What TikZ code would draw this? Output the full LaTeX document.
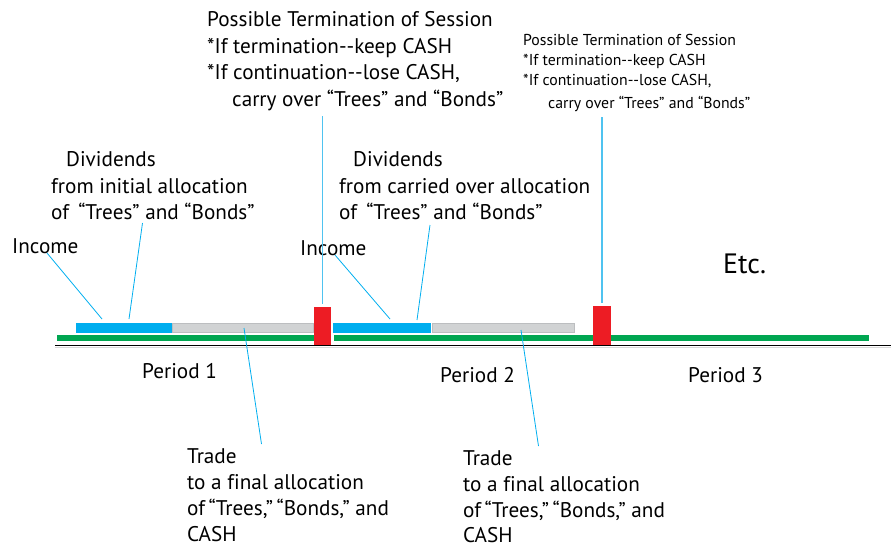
\documentclass[tikz,border=0pt]{standalone}
\usepackage{fontspec}
\setmainfont[Ligatures=NoCommon]{PT Sans}
\definecolor{cyanl}{HTML}{00AEEF}
\definecolor{termc}{HTML}{4FC3F0}
\definecolor{redb}{HTML}{ED1C24}
\definecolor{greenb}{HTML}{00A651}
\definecolor{grayb}{HTML}{D1D3D4}
\definecolor{grayedge}{HTML}{BCBEC0}
\tikzset{
  lbl/.style={anchor=base west, inner sep=0pt, font=\fontsize{21.2}{24}\selectfont},
  sml/.style={anchor=base west, inner sep=0pt, font=\fontsize{15.8}{18}\selectfont},
  etcstyle/.style={anchor=base west, inner sep=0pt, font=\fontsize{28}{30}\selectfont},
  conn/.style={draw=cyanl, line width=0.8pt},
  termline/.style={draw=termc, line width=1.4pt},
}
\newcommand{\dd}{-{}-}
\begin{document}
\begin{tikzpicture}[x=1pt,y=-1pt]
\useasboundingbox (0,0) rectangle (891,546);
% base black line
\draw[black!15, line width=1pt] (55,347.5) -- (891,347.5);
\draw[black, line width=1.5pt] (55,345.5) -- (891,345.5);
% green bars
\fill[greenb] (57,335) rectangle (314,341);
\fill[greenb] (334,335) rectangle (593,341);
\fill[greenb] (611,335) rectangle (869,341);
% blue and gray bars
\fill[cyanl] (76,323) rectangle (172,333);
\filldraw[fill=grayb, draw=grayedge, line width=0.7pt] (172.5,323.5) rectangle (313,332.5);
\fill[cyanl] (333,323) rectangle (431,333);
\filldraw[fill=grayb, draw=grayedge, line width=0.7pt] (432,323.5) rectangle (574,332.5);
% red markers
\fill[redb] (314,307) rectangle (331,345);
\fill[redb] (593,306) rectangle (611,345);
% top text 1
\node[lbl] (t1a) at (207,26.7) {Possible Termination of Session};
\node[lbl] (t1b) at (207,53.2) {*If termination\dd keep CASH};
\node[lbl] (t1c) at (207,79.7) {*If continuation\dd lose CASH,};
\node[lbl] (t1d) at (232,106) {carry over “Trees” and “Bonds”};
% top text 2
\node[sml] (t2a) at (523,45) {Possible Termination of Session};
\node[sml] (t2b) at (523,65) {*If termination\dd keep CASH};
\node[sml] (t2c) at (523,85) {*If continuation\dd lose CASH,};
\node[sml] (t2d) at (548,108) {carry over “Trees” and “Bonds”};
% dividends 1
\node[lbl] (d1a) at (66,166) {Dividends};
\node[lbl] (d1b) at (51,193) {from initial allocation};
\node[lbl] (d1c) at (51,219) {of \,“Trees” and “Bonds”};
\node[lbl] (i1) at (12,253) {Income};
% dividends 2
\node[lbl] (d2a) at (353,166) {Dividends};
\node[lbl] (d2b) at (339,193) {from carried over allocation};
\node[lbl] (d2c) at (339,219) {of \,“Trees” and “Bonds”};
\node[lbl] (i2) at (300,255) {Income};
% Etc
\node[etcstyle] (etc) at (723,273) {Etc.};
% periods
\node[lbl] (p1) at (142,378) {Period 1};
\node[lbl] (p2) at (440,382) {Period 2};
\node[lbl] (p3) at (688,382) {Period 3};
% trade 1
\node[lbl] (tr1a) at (187,463) {Trade};
\node[lbl] (tr1b) at (187,489.5) {to a final allocation};
\node[lbl] (tr1c) at (187,515.5) {of\,“Trees,”\,“Bonds,” and};
\node[lbl] (tr1d) at (187,541) {CASH};
% trade 2
\node[lbl] (tr2a) at (463,465) {Trade};
\node[lbl] (tr2b) at (463,491) {to a final allocation};
\node[lbl] (tr2c) at (463,517) {of\,“Trees,”\,“Bonds,” and};
\node[lbl] (tr2d) at (463,542.5) {CASH};
% connector end points
\coordinate (inc1s) at (47,253);
\coordinate (inc1e) at (102,319);
\coordinate (div1s) at (142.5,223);
\coordinate (div1e) at (129,319);
\coordinate (term1s) at (322.7,116);
\coordinate (term1e) at (322.7,304);
\coordinate (tr1s) at (244,328);
\coordinate (tr1e) at (261.5,444);
\coordinate (inc2s) at (335,255);
\coordinate (inc2e) at (390,319);
\coordinate (div2s) at (430,225);
\coordinate (div2e) at (417,320);
\coordinate (term2s) at (602,117);
\coordinate (term2e) at (602,303);
\coordinate (tr2s) at (521,330);
\coordinate (tr2e) at (538.5,446);
% connectors
\draw[conn] (inc1s) -- (inc1e);
\draw[conn] (div1s) -- (div1e);
\draw[termline] (term1s) -- (term1e);
\draw[conn] (tr1s) -- (tr1e);
\draw[conn] (inc2s) -- (inc2e);
\draw[conn] (div2s) -- (div2e);
\draw[termline] (term2s) -- (term2e);
\draw[conn] (tr2s) -- (tr2e);
\end{tikzpicture}
\end{document}
